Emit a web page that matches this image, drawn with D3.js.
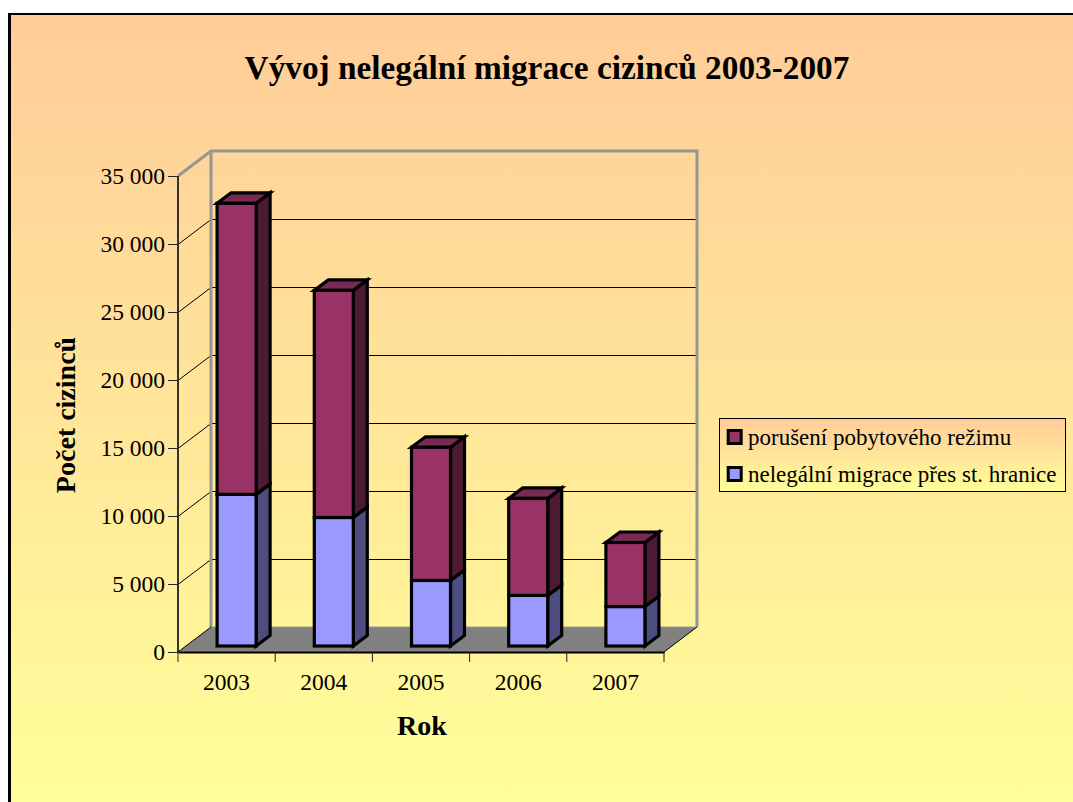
<!DOCTYPE html>
<html><head><meta charset="utf-8">
<script src="https://cdn.jsdelivr.net/npm/d3@7"></script>
<style>html,body{margin:0;padding:0;background:#fff}svg{display:block}text{font-family:"Liberation Serif",serif;fill:#000}</style>
</head><body><svg id="c" width="1073" height="802"></svg>
<script>
const titleText = "Vývoj nelegální migrace cizinců 2003-2007";
const yTitle = "Počet cizinců";
const xTitle = "Rok";
const years = ["2003","2004","2005","2006","2007"];
const seriesNames = ["porušení pobytového režimu","nelegální migrace přes st. hranice"];
const border = [11150, 9450, 4820, 3720, 2900];
const stay = [21400, 16700, 9790, 7130, 4710];
const yTicks = [0,5000,10000,15000,20000,25000,30000,35000];

const svg = d3.select("#c");
const defs = svg.append("defs");
function grad(id){
  const g = defs.append("linearGradient").attr("id",id).attr("x1",0).attr("y1",0).attr("x2",0).attr("y2",1);
  g.append("stop").attr("offset","0%").attr("stop-color","#FFCC99");
  g.append("stop").attr("offset","100%").attr("stop-color","#FFFF99");
}
grad("bg"); grad("lg");

svg.append("rect").attr("x",9).attr("y",14).attr("width",1064).attr("height",788).attr("fill","url(#bg)");
svg.append("line").attr("x1",9.5).attr("x2",9.5).attr("y1",13).attr("y2",802).attr("stroke","#000").attr("stroke-width",3);
svg.append("line").attr("x1",8).attr("x2",1073).attr("y1",14).attr("y2",14).attr("stroke","#000").attr("stroke-width",2);

const x = d3.scaleBand().domain(years).range([178,664]);
const y = d3.scaleLinear().domain([0,35000]).range([652,176]);
const dx = 33, dy = -25;
const fmt = v => d3.format(",")(v).replace(/,/g," ");
const line = d3.line();
const py = v => Math.round(y(v)) + 0.5;

// floor
svg.append("path").attr("fill","#808080")
  .attr("d", line([[178,y(0)],[178+dx,y(0)+dy],[664+dx,y(0)+dy],[664,y(0)]])+"Z");

// gridlines: side wall and back wall
const grid = yTicks.slice(1,-1);
svg.append("g").selectAll("path").data(grid).join("path")
  .attr("fill","none").attr("stroke","#000").attr("stroke-width",1)
  .attr("d", d => line([[178,py(d)],[178+dx,py(d)+dy],[664+dx,py(d)+dy]]));
svg.append("path").attr("fill","none").attr("stroke","#9a9a86").attr("stroke-width",1)
  .attr("d", line([[178+dx,y(0)+dy],[664+dx,y(0)+dy]]));

// walls
svg.append("path").attr("fill","none").attr("stroke","#969696").attr("stroke-width",3)
  .attr("d", line([[178,y(35000)],[178+dx,y(35000)+dy],[664+dx,y(35000)+dy],[664+dx,y(0)+dy]]));
svg.append("path").attr("fill","none").attr("stroke","#969696").attr("stroke-width",3)
  .attr("d", line([[178+dx,y(35000)+dy],[178+dx,y(0)+dy]]));
svg.append("path").attr("fill","none").attr("stroke","#000").attr("stroke-width",1)
  .attr("d", line([[664+dx,y(0)+dy],[664,y(0)]]));
svg.append("path").attr("fill","none").attr("stroke","#333").attr("stroke-width",2)
  .attr("d", line([[178,y(35000)],[178,y(0)]]));
svg.append("path").attr("fill","none").attr("stroke","#000").attr("stroke-width",1)
  .attr("d", line([[178,y(0)],[178+dx,y(0)+dy]]));

// axes
const gy = svg.append("g").attr("transform","translate(178,0)")
  .call(d3.axisLeft(y).tickValues(yTicks).tickFormat(fmt).tickSize(10).tickPadding(3));
gy.select(".domain").remove();
gy.selectAll("line").attr("stroke","#222");
gy.selectAll("text").attr("font-size",23.5).style("font-family","Liberation Serif").attr("fill","#000");
const gx = svg.append("g").attr("transform",`translate(0,${y(0)})`)
  .call(d3.axisBottom(x).tickSize(0).tickPadding(21));
gx.select(".domain").attr("stroke","#000").attr("stroke-width",2);
gx.selectAll("text").attr("font-size",23.5).style("font-family","Liberation Serif").attr("fill","#000");
const edges = years.map(d=>x(d)).concat([x.range()[1]]);
svg.append("g").selectAll("line").data(edges).join("line")
  .attr("x1",d=>d).attr("x2",d=>d).attr("y1",y(0)).attr("y2",y(0)+10).attr("stroke","#222");

// bars
const barW = 39, bdx = 14, bdy = -10.5, ox = 10, oy = -6;
const bars = svg.append("g").attr("stroke","#000").attr("stroke-width",3.2).attr("stroke-linejoin","miter");
function box(xl, v0, v1, front, side, top){
  const yb = y(v0)+oy, yt = y(v1)+oy, xr = xl+barW;
  bars.append("path").attr("fill",side)
    .attr("d", line([[xr,yb],[xr+bdx,yb+bdy],[xr+bdx,yt+bdy],[xr,yt]])+"Z");
  if(top) bars.append("path").attr("fill",top)
    .attr("d", line([[xl,yt],[xl+bdx,yt+bdy],[xr+bdx,yt+bdy],[xr,yt]])+"Z");
  bars.append("rect").attr("x",xl).attr("y",yt).attr("width",barW).attr("height",yb-yt).attr("fill",front);
}
years.forEach((yr,i)=>{
  const xl = x(yr)+x.bandwidth()/2+ox-barW/2;
  box(xl,0,border[i],"#9999FF","#4D4D80",null);
  box(xl,border[i],border[i]+stay[i],"#993366","#4D1A33","#7A2952");
});

// titles
svg.append("text").attr("x",547).attr("y",79).attr("text-anchor","middle")
  .attr("font-size",33.3).attr("font-weight","bold").text(titleText);
svg.append("text").attr("x",422).attr("y",735).attr("text-anchor","middle")
  .attr("font-size",28).attr("font-weight","bold").text(xTitle);
svg.append("text").attr("transform","translate(75,415) rotate(-90)").attr("text-anchor","middle")
  .attr("font-size",28).attr("font-weight","bold").text(yTitle);

// legend
svg.append("rect").attr("x",719.5).attr("y",418.5).attr("width",346).attr("height",73)
  .attr("fill","url(#lg)").attr("stroke","#000").attr("stroke-width",1);
const cols = ["#993366","#9999FF"];
const lg = svg.append("g").selectAll("g").data(seriesNames).join("g")
  .attr("transform",(d,i)=>`translate(0,${[445,482][i]})`);
lg.append("rect").attr("x",728.2).attr("y",-14.5).attr("width",13).attr("height",13)
  .attr("fill",(d,i)=>cols[i]).attr("stroke","#000").attr("stroke-width",3);
lg.append("text").attr("x",748).attr("y",0).attr("font-size",23).text(d=>d);
</script></body></html>
